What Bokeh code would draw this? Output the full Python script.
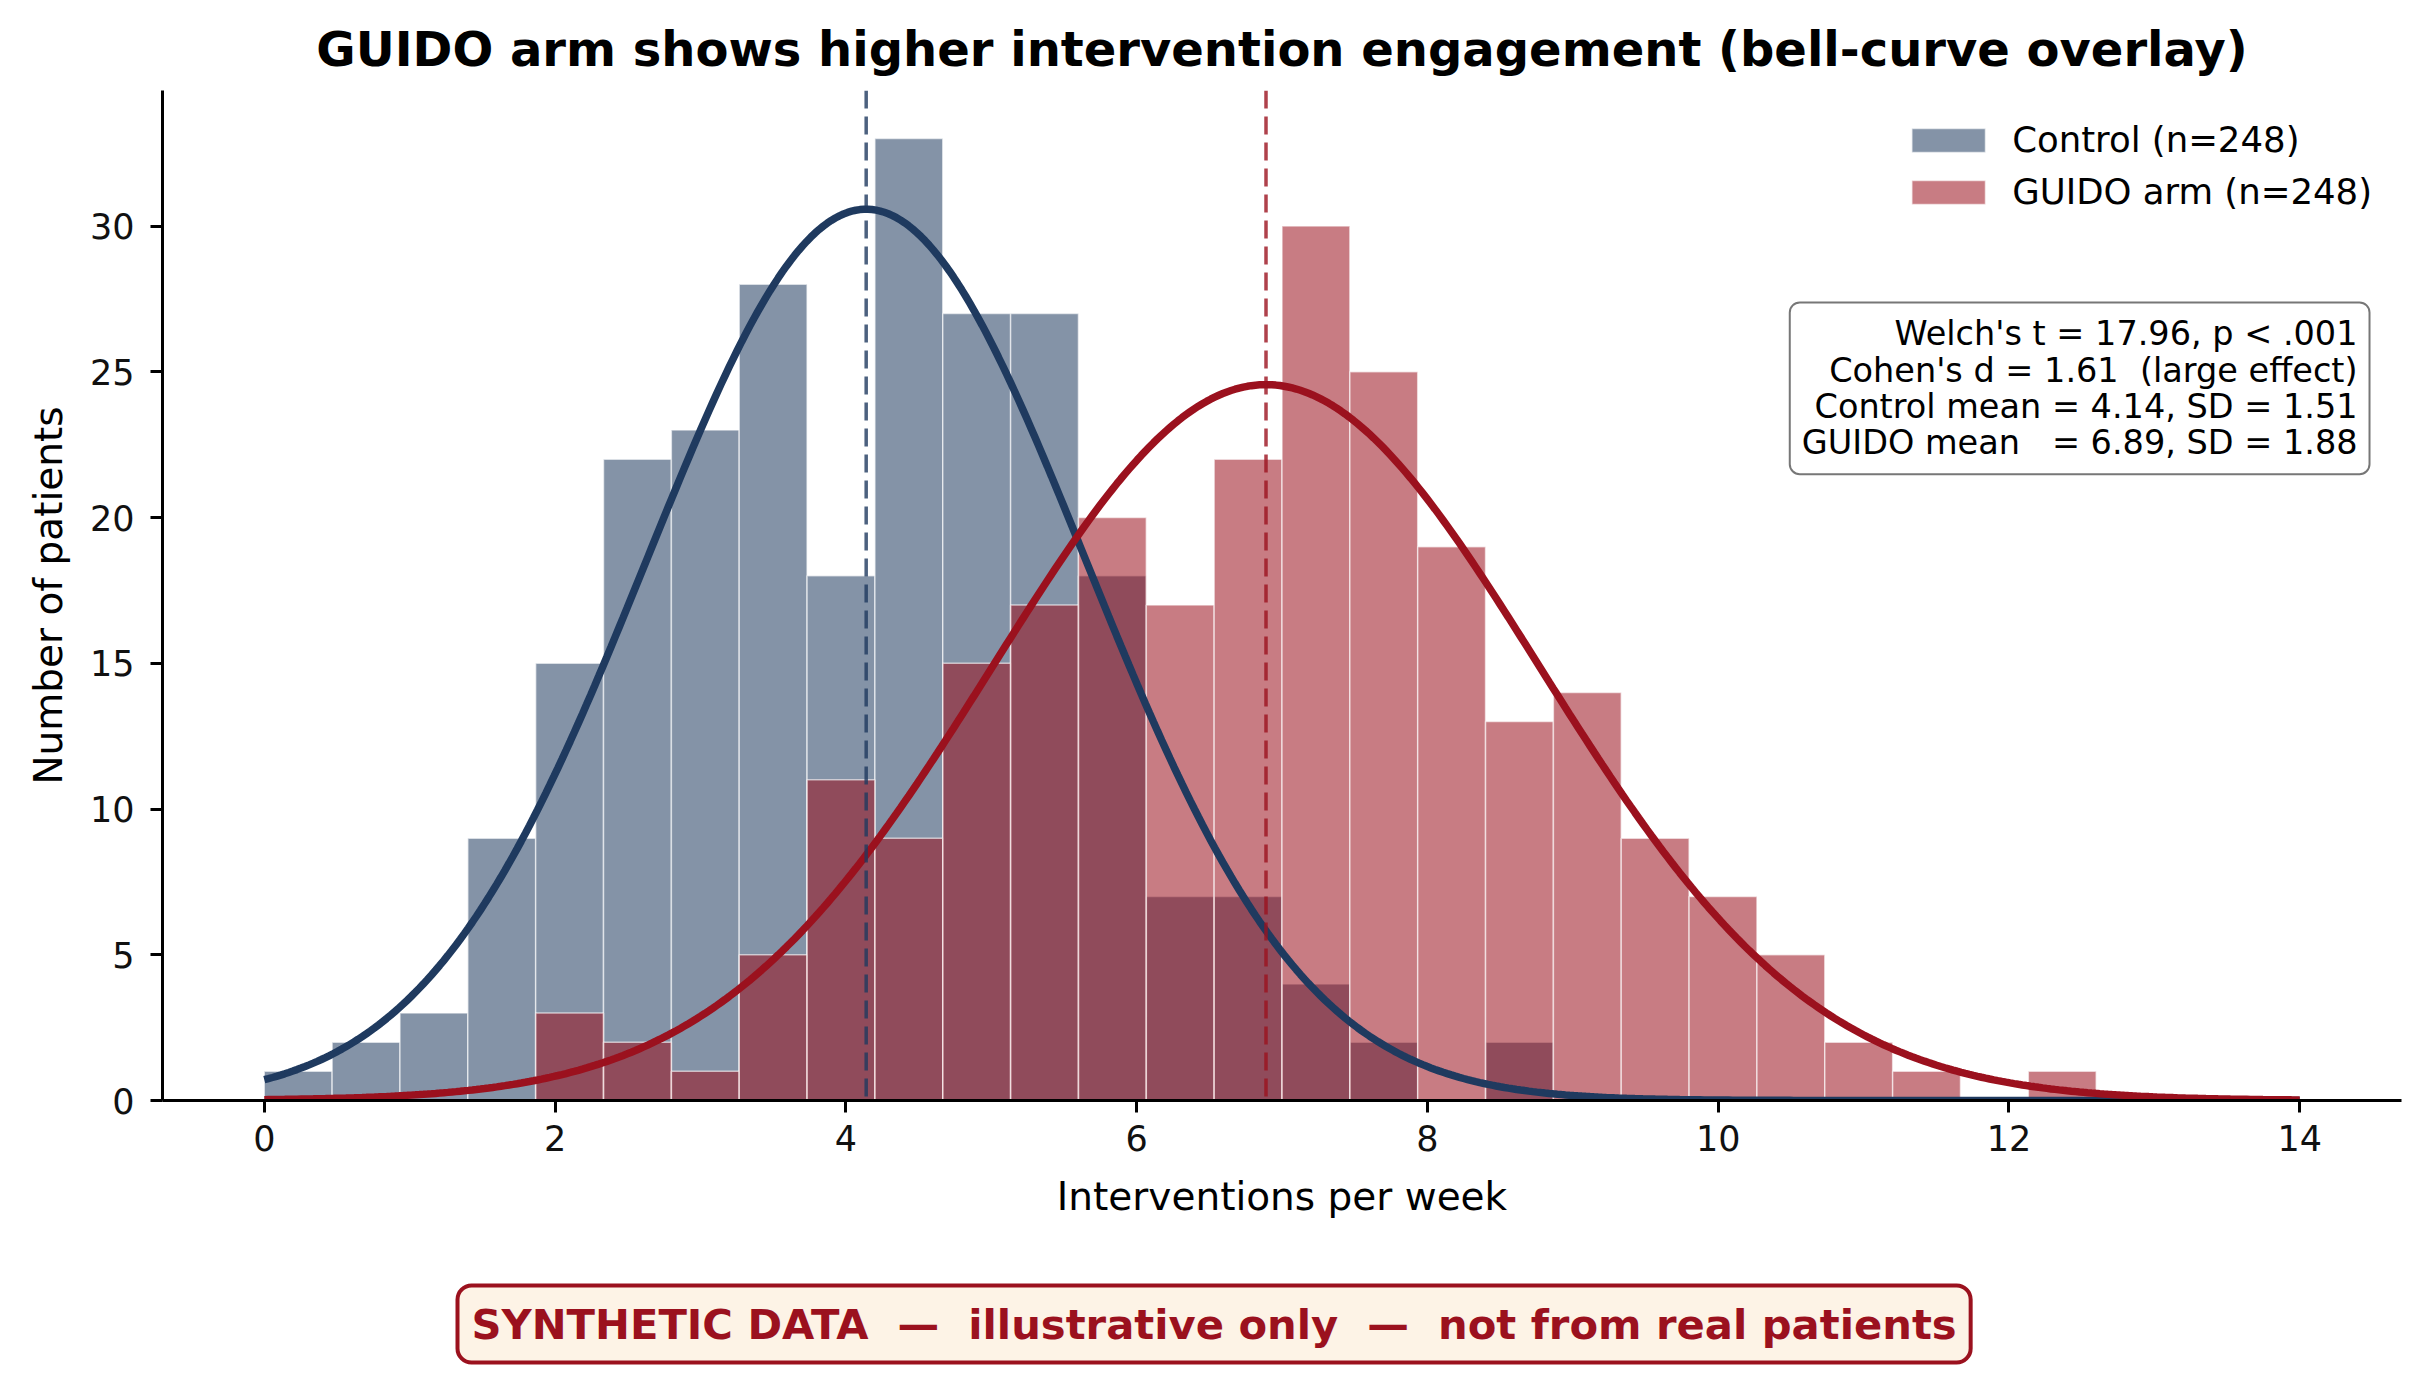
import re
import numpy as np
from bokeh.plotting import figure
from bokeh.models import Range1d, Span, Label, Legend, LegendItem, FixedTicker, ColumnDataSource, Title
from bokeh.embed import file_html
from bokeh.resources import INLINE

# ---------------- data ----------------
BIN_START, BIN_END, N_BINS = 0.0, 14.0, 30
control_counts = [1, 2, 3, 9, 15, 22, 23, 28, 18, 33, 27, 27, 18, 7, 7, 4, 2, 0, 2,
                  0, 0, 0, 0, 0, 0, 0, 0, 0, 0, 0]
guido_counts = [0, 0, 0, 0, 3, 2, 1, 5, 11, 9, 15, 17, 20, 17, 22, 30, 25, 19, 13, 14,
                9, 7, 5, 2, 1, 0, 1, 0, 0, 0]
control_mean, control_sd = 4.14, 1.51
guido_mean, guido_sd = 6.89, 1.88
n_control, n_guido = 248, 248
x_ticks = [0, 2, 4, 6, 8, 10, 12, 14]
y_ticks = [0, 5, 10, 15, 20, 25, 30]

title_text = "GUIDO arm shows higher intervention engagement (bell-curve overlay)"
x_label = "Interventions per week"
y_label = "Number of patients"
control_label = f"Control (n={n_control})"
guido_label = f"GUIDO arm (n={n_guido})"
stats_lines = [
    "Welch's t = 17.96, p < .001",
    "Cohen's d = 1.61  (large effect)",
    "Control mean = 4.14, SD = 1.51",
    "GUIDO mean   = 6.89, SD = 1.88",
]
banner_text = "SYNTHETIC DATA  \u2014  illustrative only  \u2014  not from real patients"

NAVY = "#1f3a5f"
RED = "#9b111e"
FONT = "DejaVu Sans"


def keep_spaces(s):
    # runs of spaces would collapse in SVG text; keep them with no-break spaces
    return re.sub(r" (?= )", "\u00a0", s)


# ---------------- derived ----------------
edges = np.linspace(BIN_START, BIN_END, N_BINS + 1)
bin_w = edges[1] - edges[0]
src_c = ColumnDataSource(dict(left=edges[:-1], right=edges[1:], top=control_counts))
src_g = ColumnDataSource(dict(left=edges[:-1], right=edges[1:], top=guido_counts))

xs = np.linspace(BIN_START, BIN_END, 500)


def scaled_normal(x, mu, sd, n):
    return n * bin_w * np.exp(-0.5 * ((x - mu) / sd) ** 2) / (sd * np.sqrt(2 * np.pi))


# ---------------- figure ----------------
p = figure(width=2431, height=1375, x_range=Range1d(-0.7, 14.7), y_range=Range1d(0, 34.65),
           output_backend="svg", toolbar_location=None, title=title_text, title_location="above",
           min_border_left=162, min_border_right=30, min_border_top=90, min_border_bottom=275)
p.outline_line_color = None
p.xgrid.visible = False
p.ygrid.visible = False
p.background_fill_color = "white"
p.border_fill_color = "white"

p.title.align = "center"
p.title.text_font = FONT
p.title.text_font_size = "48px"
p.title.text_font_style = "bold"
p.title.text_color = "black"
p.title.text_line_height = 1.0
p.title.standoff = 27

r_c = p.quad(left="left", right="right", bottom=0, top="top", source=src_c,
             fill_color=NAVY, fill_alpha=0.55, line_color="white", line_alpha=0.6, line_width=1.5)
r_g = p.quad(left="left", right="right", bottom=0, top="top", source=src_g,
             fill_color=RED, fill_alpha=0.55, line_color="white", line_alpha=0.6, line_width=1.5)

p.line(xs, scaled_normal(xs, control_mean, control_sd, n_control), line_color=NAVY, line_width=7.5)
p.line(xs, scaled_normal(xs, guido_mean, guido_sd, n_guido), line_color=RED, line_width=7.5)

p.add_layout(Span(location=control_mean, dimension="height", line_color=NAVY, line_alpha=0.8,
                  line_width=3.5, line_dash="18 8"))
p.add_layout(Span(location=guido_mean, dimension="height", line_color=RED, line_alpha=0.8,
                  line_width=3.5, line_dash="18 8"))

# axes
p.xaxis.ticker = FixedTicker(ticks=x_ticks)
p.yaxis.ticker = FixedTicker(ticks=y_ticks)
p.xaxis.axis_label = x_label
p.yaxis.axis_label = y_label
for ax in (p.xaxis[0], p.yaxis[0]):
    ax.axis_line_width = 3
    ax.axis_line_color = "black"
    ax.major_tick_line_width = 3
    ax.major_tick_line_color = "black"
    ax.major_tick_out = 12
    ax.major_tick_in = 0
    ax.minor_tick_line_color = None
    ax.major_label_text_font = FONT
    ax.major_label_text_font_size = "35px"
    ax.major_label_text_color = "#111111"
    ax.axis_label_text_font = FONT
    ax.axis_label_text_font_size = "39px"
    ax.axis_label_text_font_style = "normal"
    ax.axis_label_text_color = "black"
p.xaxis.major_label_standoff = 12
p.yaxis.major_label_standoff = 16
p.xaxis.axis_label_standoff = 20
p.yaxis.axis_label_standoff = 16

# legend
legend = Legend(items=[LegendItem(label=control_label, renderers=[r_c]),
                       LegendItem(label=guido_label, renderers=[r_g])],
                location="top_right", border_line_color=None, background_fill_alpha=0,
                glyph_width=92, glyph_height=30, label_standoff=18, spacing=11,
                padding=0, margin=29, label_text_font=FONT, label_text_font_size="35.5px",
                label_text_line_height=1.0, label_text_color="black")
p.add_layout(legend)

# stats box
p.add_layout(Label(x=14.48, y=27.38, text="\n".join(keep_spaces(s) for s in stats_lines),
                   text_align="right", text_baseline="top", text_font=FONT,
                   text_font_size="33.5px", text_line_height=0.93,
                   text_color="black", background_fill_color="white", background_fill_alpha=0.9,
                   border_line_color="#777777", border_line_width=2, border_radius=10, padding=12))

# empty spacer panel between the x axis and the banner
p.add_layout(Title(text=" ", text_font_size="1px", standoff=51), "below")

# banner below the axis
banner = Title(text=keep_spaces(banner_text), align="left", offset=295, vertical_align="top",
               text_font=FONT, text_font_size="41.7px", text_font_style="bold", text_color=RED,
               background_fill_color="#fdf3e6", border_line_color=RED, border_line_width=4,
               border_radius=14, padding=14, standoff=20)
p.add_layout(banner, "below")

open("out.html", "w").write(file_html(p, INLINE))
